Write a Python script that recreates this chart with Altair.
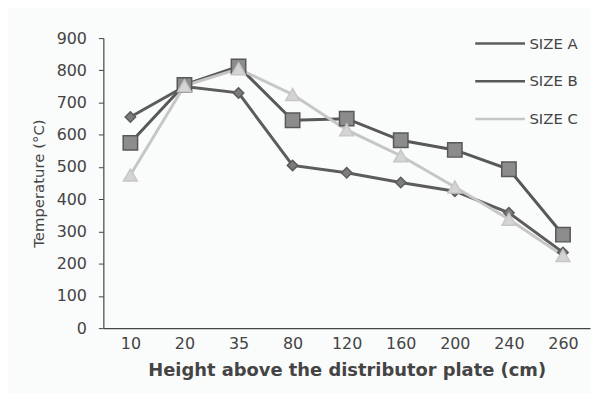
import altair as alt
import pandas as pd

heights = ["10", "20", "35", "80", "120", "160", "200", "240", "260"]
series_names = ["SIZE A", "SIZE B", "SIZE C"]
size_a = [655, 750, 730, 505, 482, 452, 425, 358, 235]
size_b = [575, 755, 812, 645, 650, 583, 553, 493, 290]
size_c = [475, 752, 805, 725, 615, 535, 438, 338, 225]

rows = []
for name, vals in zip(series_names, [size_a, size_b, size_c]):
    for h, v in zip(heights, vals):
        rows.append({"h": h, "series": name, "temp": v})
df = pd.DataFrame(rows)

stroke_range = ["#5c5c5c", "#585858", "#c6c6c6"]
fill_range = ["#7c7c7c", "#8c8c8c", "#d4d4d4"]
marker_shapes = ["diamond", "square", "triangle-up"]
marker_sizes = [110, 210, 190]
font = "DejaVu Sans"

x = alt.X("h:N", sort=heights, scale=alt.Scale(type="point", padding=0.5),
          axis=alt.Axis(title="Height above the distributor plate (cm)", labelAngle=0,
                        ticks=False, labelFontSize=16, labelPadding=8, labelColor="#444",
                        titleFontSize=18, titleFontWeight="bold", titleColor="#444",
                        titlePadding=10, domainColor="#444", domainWidth=1.2, labelFont=font,
                        titleFont=font))
y = alt.Y("temp:Q", scale=alt.Scale(domain=[0, 900], nice=False),
          axis=alt.Axis(title="Temperature (°C)", values=list(range(0, 901, 100)), grid=False,
                        tickSize=5, tickColor="#444", domainColor="#444", domainWidth=1.2,
                        labelFontSize=16, labelPadding=12, labelColor="#444",
                        titleFontSize=15, titleFontWeight="normal", titleColor="#444",
                        titlePadding=10, labelFont=font, titleFont=font))

legend = alt.Legend(title=None, orient="none", legendX=383, legendY=-11,
                    symbolType="M-1.67,0L1.67,0", symbolSize=900, symbolStrokeWidth=2.5,
                    labelFontSize=15, labelOffset=13, labelColor="#444", labelFont=font,
                    rowPadding=13)

lines = alt.Chart(df).mark_line(strokeWidth=3).encode(
    x=x, y=y,
    stroke=alt.Stroke("series:N", scale=alt.Scale(domain=series_names, range=stroke_range),
                      legend=legend),
)

point_layers = []
for name, shp, sz, sc, fc in zip(series_names, marker_shapes, marker_sizes, stroke_range, fill_range):
    point_layers.append(
        alt.Chart(df).transform_filter(alt.datum.series == name)
        .mark_point(filled=True, opacity=1, strokeWidth=1.5, shape=shp, size=sz,
                    stroke=sc, fill=fc)
        .encode(x=x, y=y)
    )

chart = alt.layer(lines, *point_layers).properties(
    width=490, height=292,
    autosize=alt.AutoSizeParams(type="none"),
    padding={"left": 96, "top": 29, "right": 1, "bottom": 64},
    background="#fafbfb",
).configure_view(stroke=None)

chart.save("out.html", embed_options={"renderer": "svg", "actions": False})
